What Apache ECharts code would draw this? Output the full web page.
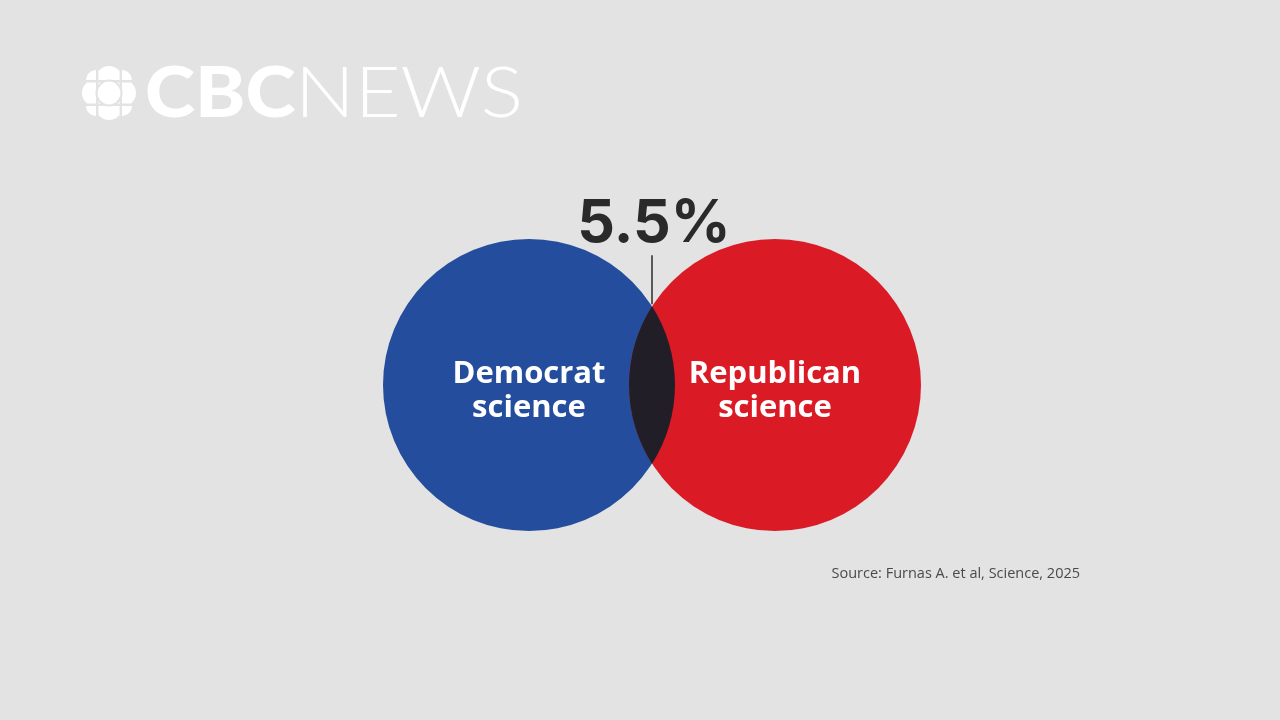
<!DOCTYPE html>
<html>
<head>
<meta charset="utf-8">
<script src="https://cdn.jsdelivr.net/npm/echarts@6/dist/echarts.min.js"></script>
<style>
  html, body { margin: 0; padding: 0; background: #e3e3e3; }
  #venn { width: 1280px; height: 720px; }
</style>
</head>
<body>
<div id="venn"></div>
<script>
// sets of the venn diagram, in units of one circle radius
var setNames = ['Democrat\nscience', 'Republican\nscience'];
var setX = [-0.8425, 0.8425];
var setY = [0, 0];
var setRadius = [1, 1];
var overlapShare = 5.5;   // percent
var sourceText = 'Source: Furnas A. et al, Science, 2025';

var setColors = ['#244e9d', '#da1a25'];
var overlapColor = '#221e27';
var bg = '#e3e3e3';

var vennChart = echarts.init(document.getElementById('venn'));

var circleData = [];
for (var i = 0; i < setNames.length; i++) {
  circleData.push([setX[i], setY[i], setRadius[i], i]);
}

function renderCircle(params, api) {
  var c = api.coord([api.value(0), api.value(1)]);
  var r = api.size([api.value(2), api.value(2)])[0];
  var idx = api.value(3);
  return {
    type: 'circle',
    shape: { cx: c[0], cy: c[1], r: r },
    style: { fill: setColors[idx] }
  };
}

function renderLabel(params, api) {
  var c = api.coord([api.value(0), api.value(1)]);
  var idx = api.value(3);
  return {
    type: 'text',
    x: c[0],
    y: c[1] + 6,
    style: {
      text: setNames[idx],
      fill: '#ffffff',
      fontFamily: 'Open Sans',
      fontWeight: 'bold',
      fontSize: 31,
      lineHeight: 34,
      align: 'center',
      verticalAlign: 'middle',
      textAlign: 'center',
      textVerticalAlign: 'middle'
    }
  };
}

// overlap lens between the two circles + the callout
function renderOverlap(params, api) {
  var d = setX[1] - setX[0];
  var r0 = setRadius[0], r1 = setRadius[1];
  var a = (d * d + r0 * r0 - r1 * r1) / (2 * d);
  var h = Math.sqrt(r0 * r0 - a * a);
  var ix = setX[0] + a;
  var top = api.coord([ix, setY[0] + h]);
  var bot = api.coord([ix, setY[0] - h]);
  var pr0 = api.size([r0, r0])[0];
  var pr1 = api.size([r1, r1])[0];
  var path = 'M' + top[0] + ' ' + top[1] +
    ' A' + pr0 + ' ' + pr0 + ' 0 0 1 ' + bot[0] + ' ' + bot[1] +
    ' A' + pr1 + ' ' + pr1 + ' 0 0 1 ' + top[0] + ' ' + top[1] + ' Z';
  return {
    type: 'group',
    children: [
      { type: 'path', shape: { pathData: path }, style: { fill: overlapColor } },
      {
        type: 'line',
        shape: { x1: top[0], y1: top[1] - 2, x2: top[0], y2: top[1] - 51 },
        style: { stroke: '#2b2b2b', lineWidth: 1.5 }
      },
      {
        type: 'text',
        x: top[0] + 2,
        y: top[1] - 82,
        style: {
          text: api.value(0) + '%',
          fill: '#2a2a2a',
          fontFamily: 'Inter',
          fontWeight: 'bold',
          fontSize: 59,
          align: 'center',
          verticalAlign: 'middle',
          textAlign: 'center',
          textVerticalAlign: 'middle'
        }
      }
    ]
  };
}

// cbc gem logo
var gx = 109, gy = 93;
var gem = [];
[[0, -14], [0, 14], [-14, 0], [14, 0]].forEach(function (o) {
  gem.push({ type: 'circle', shape: { cx: gx + o[0], cy: gy + o[1], r: 13 }, style: { fill: '#fff' } });
});
[[-13, -13], [13, -13], [-13, 13], [13, 13]].forEach(function (o) {
  gem.push({ type: 'circle', shape: { cx: gx + o[0], cy: gy + o[1], r: 10 }, style: { fill: '#fff' } });
});
gem.push({ type: 'rect', shape: { x: gx - 13, y: gy - 35, width: 2.4, height: 70 }, style: { fill: bg } });
gem.push({ type: 'rect', shape: { x: gx + 10.6, y: gy - 35, width: 2.4, height: 70 }, style: { fill: bg } });
gem.push({ type: 'rect', shape: { x: gx - 35, y: gy - 13, width: 70, height: 2.4 }, style: { fill: bg } });
gem.push({ type: 'rect', shape: { x: gx - 35, y: gy + 10.6, width: 70, height: 2.4 }, style: { fill: bg } });
gem.push({ type: 'circle', shape: { cx: gx, cy: gy, r: 13.6 }, style: { fill: bg } });
gem.push({ type: 'circle', shape: { cx: gx, cy: gy, r: 11.4 }, style: { fill: '#fff' } });

var option = {
  backgroundColor: bg,
  animation: false,
  grid: { left: 383, top: 239, width: 538, height: 292 },
  xAxis: { type: 'value', min: -1.8425, max: 1.8425, show: false },
  yAxis: { type: 'value', min: -1, max: 1, show: false },
  graphic: [
    { type: 'group', children: gem },
    {
      type: 'text', x: 145, y: 59, scaleX: 1.085,
      style: { x: 0, y: 0, text: 'CBC', fill: '#fff', fontFamily: 'Lato', fontWeight: 900, fontSize: 70,
        align: 'left', verticalAlign: 'top' }
    },
    {
      type: 'text', x: 295, y: 59, scaleX: 1.13,
      style: { x: 0, y: 0, text: 'NEWS', fill: '#fff', fontFamily: 'Lato', fontWeight: 300, fontSize: 70,
        align: 'left', verticalAlign: 'top' }
    },
    {
      type: 'text', right: 200, top: 566,
      style: { text: sourceText, fill: '#4a4a4a', fontFamily: 'Open Sans', fontSize: 14.5 }
    }
  ],
  series: [
    { type: 'custom', renderItem: renderCircle, data: circleData, z: 1, silent: true },
    { type: 'custom', renderItem: renderOverlap, data: [[overlapShare]], z: 2, silent: true,
      encode: { x: -1, y: -1 } },
    { type: 'custom', renderItem: renderLabel, data: circleData, z: 3, silent: true }
  ]
};

vennChart.setOption(option);
</script>
</body>
</html>
